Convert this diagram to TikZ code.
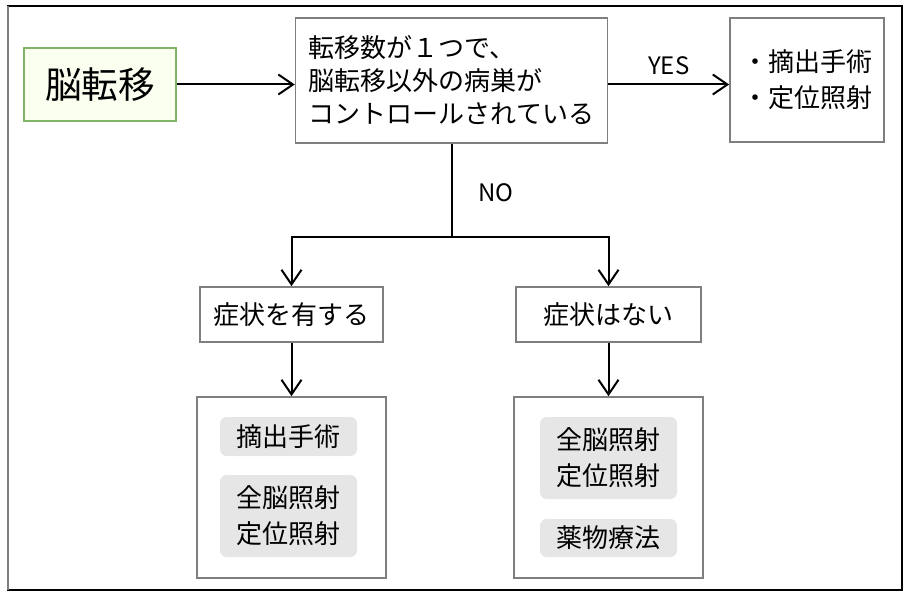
\documentclass[tikz,border=0pt]{standalone}
\usepackage{fontspec}
\setmainfont{Noto Sans CJK JP}
\usetikzlibrary{positioning}
\usetikzlibrary{arrows.meta}
\definecolor{boxgray}{HTML}{7F7F7F}
\definecolor{tagfill}{HTML}{E6E6E6}
\definecolor{leafgreen}{HTML}{82B366}
\definecolor{leaffill}{HTML}{FBFFF0}
\tikzset{
  plain/.style={draw=boxgray, line width=1.2pt, align=center, inner sep=0pt,
    font=\fontsize{19.5pt}{27pt}\selectfont},
  tag/.style={fill=tagfill, rounded corners=5pt, minimum width=102.75pt,
    align=center, inner sep=0pt, font=\fontsize{19.5pt}{27pt}\selectfont},
  link/.style={line width=1.5pt},
  arr/.style={link, -{Straight Barb[length=11pt, width=15pt, line width=1.5pt]}}
}

\begin{document}
\begin{tikzpicture}[x=0.75pt, y=-0.75pt]
    \useasboundingbox (0,0) rectangle (907,595);
    \draw[line width=1.3pt] (8,6) rectangle (902,590);
    \draw[boxgray, line width=1.6pt] (8,6) -- (8,590);
    \node[draw=leafgreen, fill=leaffill, line width=1.4pt, minimum width=114pt, minimum height=54.75pt,
          font=\fontsize{27.5pt}{33pt}\selectfont](brain) at (100,84.5){脳転移};
    \node[plain, minimum width=228.75pt, minimum height=93.75pt, align=left, inner xsep=10pt,
          font=\fontsize{19.5pt}{24.75pt}\selectfont](q) at (451.5,80.5)
          {転移数が１つで、\\脳転移以外の病巣が\\コントロールされている};
    \node[plain, minimum width=115.5pt, minimum height=93pt, align=left](res) at (807,80){・摘出手術\\・定位照射};
    \node[plain, minimum width=137.25pt, minimum height=41.25pt](sym) at (291.5,314.5){症状を有する};
    \node[plain, minimum width=138.75pt, minimum height=41.25pt](nosym) at (608.5,314.5){症状はない};
    \node[plain, minimum width=141.75pt, minimum height=135.75pt](tl) at (291.5,487.5){};
    \node[plain, minimum width=141.75pt, minimum height=135.75pt](tr) at (608.5,487.5){};
    \node[tag, minimum height=29.25pt](surg) at (288.5,436.5){摘出手術};
    \node[tag, minimum height=61.5pt](rad1) at (288.5,516){全脳照射\\定位照射};
    \node[tag, minimum height=61.5pt](rad2) at (608.5,458){全脳照射\\定位照射};
    \node[tag, minimum height=28.5pt](drug) at (608.5,538){薬物療法};
    \coordinate (split) at (451.5,237);
    \draw[arr] (brain) -- (brain -| q.west);
    \draw[arr] (q.east |- brain) -- node[above=3pt, font=\fontsize{18pt}{20pt}\selectfont]{YES} (res.west |- brain);
    \draw[link] (q) -- node[right=16pt, pos=0.52, font=\fontsize{18pt}{20pt}\selectfont]{NO} (split);
    \draw[arr] (split) -| (sym);
    \draw[arr] (split) -| (nosym);
    \draw[arr] (sym) -- (sym |- tl.north);
    \draw[arr] (nosym) -- (nosym |- tr.north);
\end{tikzpicture}
\end{document}
